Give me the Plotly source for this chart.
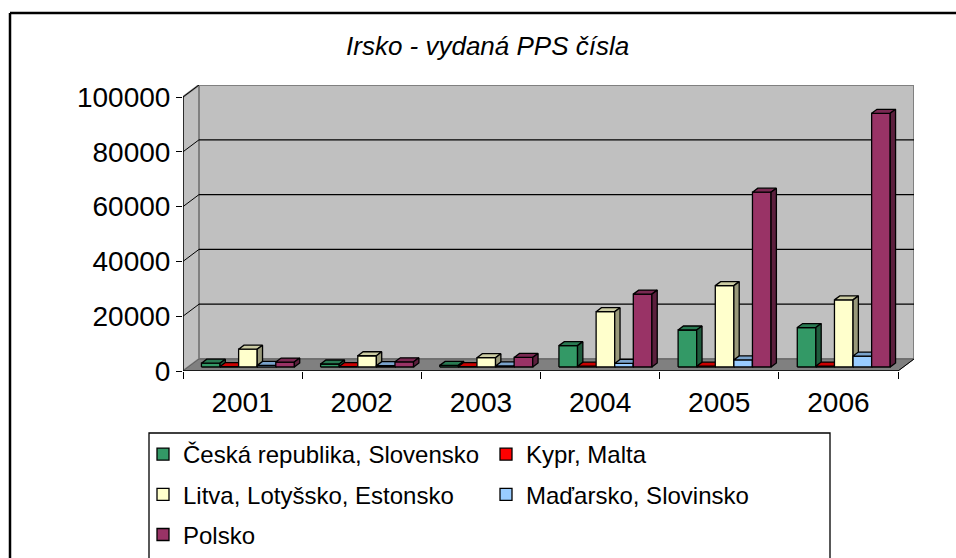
import plotly.graph_objects as go

# ---------------- data ----------------
years = ["2001", "2002", "2003", "2004", "2005", "2006"]
series_names = ["Česká republika, Slovensko", "Kypr, Malta",
                "Litva, Lotyšsko, Estonsko", "Maďarsko, Slovinsko", "Polsko"]
cz_sk = [1400, 1100, 600, 7800, 13500, 14400]
cy_mt = [150, 150, 150, 300, 300, 350]
lt_lv_ee = [6500, 4100, 3400, 20200, 29700, 24500]
hu_si = [600, 500, 400, 1300, 2600, 4000]
pl = [1800, 1900, 3500, 26600, 63800, 92600]
y_ticks = [0, 20000, 40000, 60000, 80000, 100000]
title_text = "Irsko - vydaná PPS čísla"

series_values = [cz_sk, cy_mt, lt_lv_ee, hu_si, pl]

# ---------------- styles ----------------
front_cols = ["#339966", "#FF0000", "#FFFFCC", "#99CCFF", "#993366"]
top_cols = ["#297A52", "#CC0000", "#CCCCA3", "#7AA3CC", "#7A2952"]
side_cols = ["#1F5C3D", "#990000", "#99997A", "#5C7A99", "#5C1F3D"]
FONT = "Liberation Sans, Arial, sans-serif"

W, H = 956, 558
L, R, T, B = 183, 42, 85, 187
PW, PH = W - L - R, H - T - B
CAT = 715 / 6.0            # px per category on the front plane
VAL = 274 / 100000.0       # px per unit value
DX = 16 / CAT              # wall depth (x, category units)
DY = 12 / VAL              # wall depth (y, value units)
DXF, DYF = DX / 3, DY / 3  # bar front offset
DXD, DYD = DX / 3, DY / 3  # bar depth
BW = 0.156                 # bar width (category units)
GROUP = BW * len(series_names)

ymax = y_ticks[-1]
ncat = len(years)


def pxx(px):
    return (px - L) / PW


def pyy(py):
    return 1 - (py - T) / PH


fig = go.Figure()

# 3D bars drawn as polygons (left-to-right order for occlusion)
for s, vals in enumerate(series_values):
    fx, fy, tx, ty, sx, sy = [], [], [], [], [], []
    for i, v in enumerate(vals):
        xl = i - GROUP / 2 + s * BW + DXF
        xr = xl + BW
        yb = DYF
        yt = DYF + v
        fx += [xl, xr, xr, xl, xl, None]
        fy += [yb, yb, yt, yt, yb, None]
        tx += [xl, xr, xr + DXD, xl + DXD, xl, None]
        ty += [yt, yt, yt + DYD, yt + DYD, yt, None]
        sx += [xr, xr + DXD, xr + DXD, xr, xr, None]
        sy += [yb, yb + DYD, yt + DYD, yt, yb, None]
    for xs, ys, col in ((fx, fy, front_cols[s]), (tx, ty, top_cols[s]), (sx, sy, side_cols[s])):
        fig.add_trace(go.Scatter(x=xs, y=ys, mode="lines", fill="toself", fillcolor=col,
                                 line=dict(color="black", width=1.3), showlegend=False,
                                 hoverinfo="skip"))

# legend entries
for s, name in enumerate(series_names):
    fig.add_trace(go.Bar(x=[None], y=[None], name=name, legendgroup=name,
                         marker=dict(color=front_cols[s], line=dict(color="black", width=1.3)),
                         legend="legend" if s % 2 == 0 else "legend2"))

shapes = []
x0, x1 = -0.5, ncat - 0.5
# back wall
shapes.append(dict(type="rect", xref="x", yref="y", x0=x0 + DX, x1=x1 + DX, y0=DY, y1=ymax + DY,
                   fillcolor="#C0C0C0", line=dict(color="#808080", width=2), layer="below"))
# left wall
shapes.append(dict(type="path", xref="x", yref="y",
                   path=f"M{x0},0 L{x0+DX},{DY} L{x0+DX},{ymax+DY} L{x0},{ymax} Z",
                   fillcolor="#C0C0C0", line=dict(color="#808080", width=2), layer="below"))
# floor
shapes.append(dict(type="path", xref="x", yref="y",
                   path=f"M{x0},0 L{x1},0 L{x1+DX},{DY} L{x0+DX},{DY} Z",
                   fillcolor="#808080", line=dict(color="#606060", width=1), layer="below"))
# gridlines on back wall and left wall
for v in y_ticks[1:-1]:
    shapes.append(dict(type="line", xref="x", yref="y", x0=x0 + DX, x1=x1 + DX, y0=v + DY, y1=v + DY,
                       line=dict(color="black", width=1.3), layer="below"))
for v in y_ticks[1:]:
    shapes.append(dict(type="line", xref="x", yref="y", x0=x0, x1=x0 + DX, y0=v, y1=v + DY,
                       line=dict(color="black", width=1), layer="below"))
# front axes lines
shapes.append(dict(type="line", xref="x", yref="y", x0=x0, x1=x0, y0=0, y1=ymax,
                   line=dict(color="black", width=1.3)))
shapes.append(dict(type="line", xref="x", yref="y", x0=x0, x1=x1, y0=0, y1=0,
                   line=dict(color="black", width=1.3)))
shapes.append(dict(type="line", xref="x", yref="y", x0=x1, x1=x1 + DX, y0=0, y1=DY,
                   line=dict(color="black", width=1)))
# outer chart border
shapes.append(dict(type="line", xref="paper", yref="paper", x0=pxx(10), x1=pxx(960), y0=pyy(13), y1=pyy(13),
                   line=dict(color="black", width=2.5)))
shapes.append(dict(type="line", xref="paper", yref="paper", x0=pxx(10), x1=pxx(10), y0=pyy(13), y1=pyy(562),
                   line=dict(color="black", width=2.5)))
# legend box
shapes.append(dict(type="rect", xref="paper", yref="paper", x0=pxx(149), x1=pxx(830), y0=pyy(433), y1=pyy(562),
                   line=dict(color="black", width=1.3), fillcolor="rgba(0,0,0,0)"))

fig.update_layout(
    width=W, height=H,
    margin=dict(l=L, r=R, t=T, b=B, autoexpand=False),
    paper_bgcolor="white", plot_bgcolor="white",
    font=dict(family=FONT, color="black"),
    shapes=shapes,
    showlegend=True,
    barmode="overlay",
    annotations=[dict(text=title_text, xref="paper", yref="paper", x=pxx(487), y=pyy(46),
                      xanchor="center", yanchor="middle", showarrow=False,
                      font=dict(size=26, family=FONT, style="italic"))],
    xaxis=dict(range=[x0, x1 + DX], tickmode="array", tickvals=list(range(ncat)), ticktext=years,
               ticks="outside", ticklen=6, tickcolor="rgba(0,0,0,0)",
               minor=dict(tickmode="array", tickvals=[k - 0.5 for k in range(ncat + 1)],
                          ticks="outside", ticklen=7, tickcolor="black", tickwidth=1.3),
               showgrid=False, zeroline=False, showline=False, tickfont=dict(size=28),
               fixedrange=True),
    yaxis=dict(range=[0, ymax + DY], tickmode="array", tickvals=y_ticks,
               ticktext=[str(v) for v in y_ticks],
               ticks="outside", ticklen=6, tickcolor="black", tickwidth=1.3,
               showgrid=False, zeroline=False, showline=False, tickfont=dict(size=28),
               fixedrange=True),
    legend=dict(x=pxx(143), y=pyy(432), xanchor="left", yanchor="top", orientation="v",
                font=dict(size=24, family=FONT), bgcolor="rgba(0,0,0,0)", borderwidth=0,
                traceorder="grouped", tracegroupgap=6),
    legend2=dict(x=pxx(486), y=pyy(432), xanchor="left", yanchor="top", orientation="v",
                 font=dict(size=24, family=FONT), bgcolor="rgba(0,0,0,0)", borderwidth=0,
                 traceorder="grouped", tracegroupgap=6),
)

fig.write_html("out.html", config={"displayModeBar": False},
               post_script="document.body.style.margin='0';")
